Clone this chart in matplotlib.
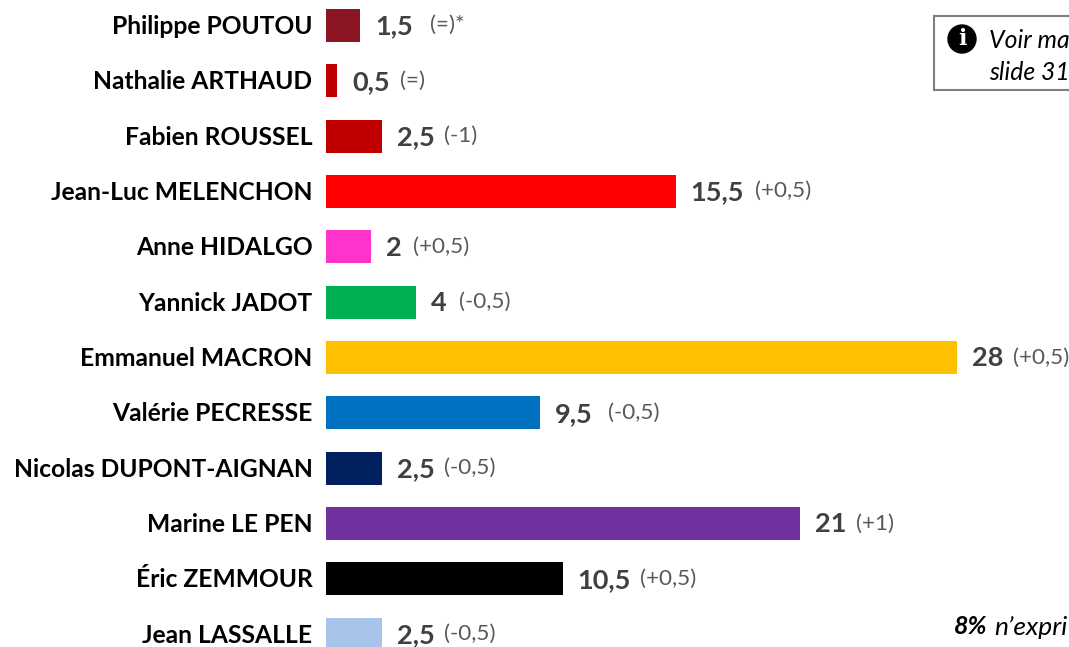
import matplotlib
matplotlib.use("Agg")
import matplotlib.pyplot as plt
from matplotlib.patches import Rectangle, Ellipse

candidates = ["Philippe POUTOU", "Nathalie ARTHAUD", "Fabien ROUSSEL", "Jean-Luc MELENCHON",
              "Anne HIDALGO", "Yannick JADOT", "Emmanuel MACRON", "Valérie PECRESSE",
              "Nicolas DUPONT-AIGNAN", "Marine LE PEN", "Éric ZEMMOUR", "Jean LASSALLE"]
scores = [1.5, 0.5, 2.5, 15.5, 2, 4, 28, 9.5, 2.5, 21, 10.5, 2.5]
score_labels = ["1,5", "0,5", "2,5", "15,5", "2", "4", "28", "9,5", "2,5", "21", "10,5", "2,5"]
changes = ["(=)*", "(=)", "(-1)", "(+0,5)", "(+0,5)", "(-0,5)", "(+0,5)", "(-0,5)", "(-0,5)", "(+1)", "(+0,5)", "(-0,5)"]
colors = ["#8C1523", "#C00000", "#C00000", "#FF0000", "#FF33CC", "#00B050",
          "#FFC000", "#0070C0", "#002060", "#7030A0", "#000000", "#A6C4EA"]

W, H = 1069, 647
X0, PX_PER_PT = 326, 22.55
Y0, PX_PER_ROW = 25.3, 55.35
FONT = "Lato"

fig = plt.figure(figsize=(W / 100, H / 100), dpi=100)
ax = fig.add_axes([0, 0, 1, 1])
ax.set_xlim(-X0 / PX_PER_PT, (W - X0) / PX_PER_PT)
ax.set_ylim((H - Y0) / PX_PER_ROW, -Y0 / PX_PER_ROW)
ax.axis("off")

rows = list(range(len(candidates)))
ax.barh(rows, scores, height=33 / PX_PER_ROW, color=colors)

# px -> pt for offsets at dpi 100
px = 0.72
gaps = [17, 10, 9, 11, 11, 12, 9, 15, 9, 10, 9, 9]

for i in rows:
    ax.annotate(candidates[i], (0, i), xytext=(-13.5 * px, -1 * px), textcoords="offset points",
                ha="right", va="center", fontsize=17.7, fontweight="bold",
                family=FONT, color="black")
    val = ax.annotate(score_labels[i], (scores[i], i), xytext=(15 * px, -1 * px),
                      textcoords="offset points", ha="left", va="center",
                      fontsize=19.5, fontweight="bold", family=FONT, color="#404040")
    ax.annotate(changes[i], xy=(1, 0.5), xycoords=val, xytext=(gaps[i] * px, 1 * px),
                textcoords="offset points", ha="left", va="center",
                fontsize=16.2, family=FONT, color="#595959")

# Info box, runs off the right edge like the source slide
box = Rectangle((934 / W, 1 - 90 / H), 200 / W, 74 / H, transform=fig.transFigure,
                facecolor="white", edgecolor="#7F7F7F", linewidth=1.5, clip_on=False)
fig.add_artist(box)
fig.add_artist(Ellipse((962 / W, 1 - 39 / H), 28 / W, 28 / H, transform=fig.transFigure, color="black"))
fig.text(962 / W, 1 - 39 / H, "i", ha="center", va="center", fontsize=16, fontweight="bold",
         family="DejaVu Serif", color="white")
fig.text(989 / W, 1 - 41 / H, "Voir ma", ha="left", va="center", fontsize=17.8,
         style="italic", family=FONT, color="black")
fig.text(989 / W, 1 - 73 / H, "slide 31", ha="left", va="center", fontsize=17.8,
         style="italic", family=FONT, color="black")

fig.text(954 / W, 1 - 627 / H, "8%", ha="left", va="center", fontsize=18,
         style="italic", fontweight="bold", family=FONT, color="black")
fig.text(994 / W, 1 - 627 / H, "n’expri", ha="left", va="center",
         fontsize=19, style="italic", family=FONT, color="black")

fig.savefig("out.png", dpi=100)
